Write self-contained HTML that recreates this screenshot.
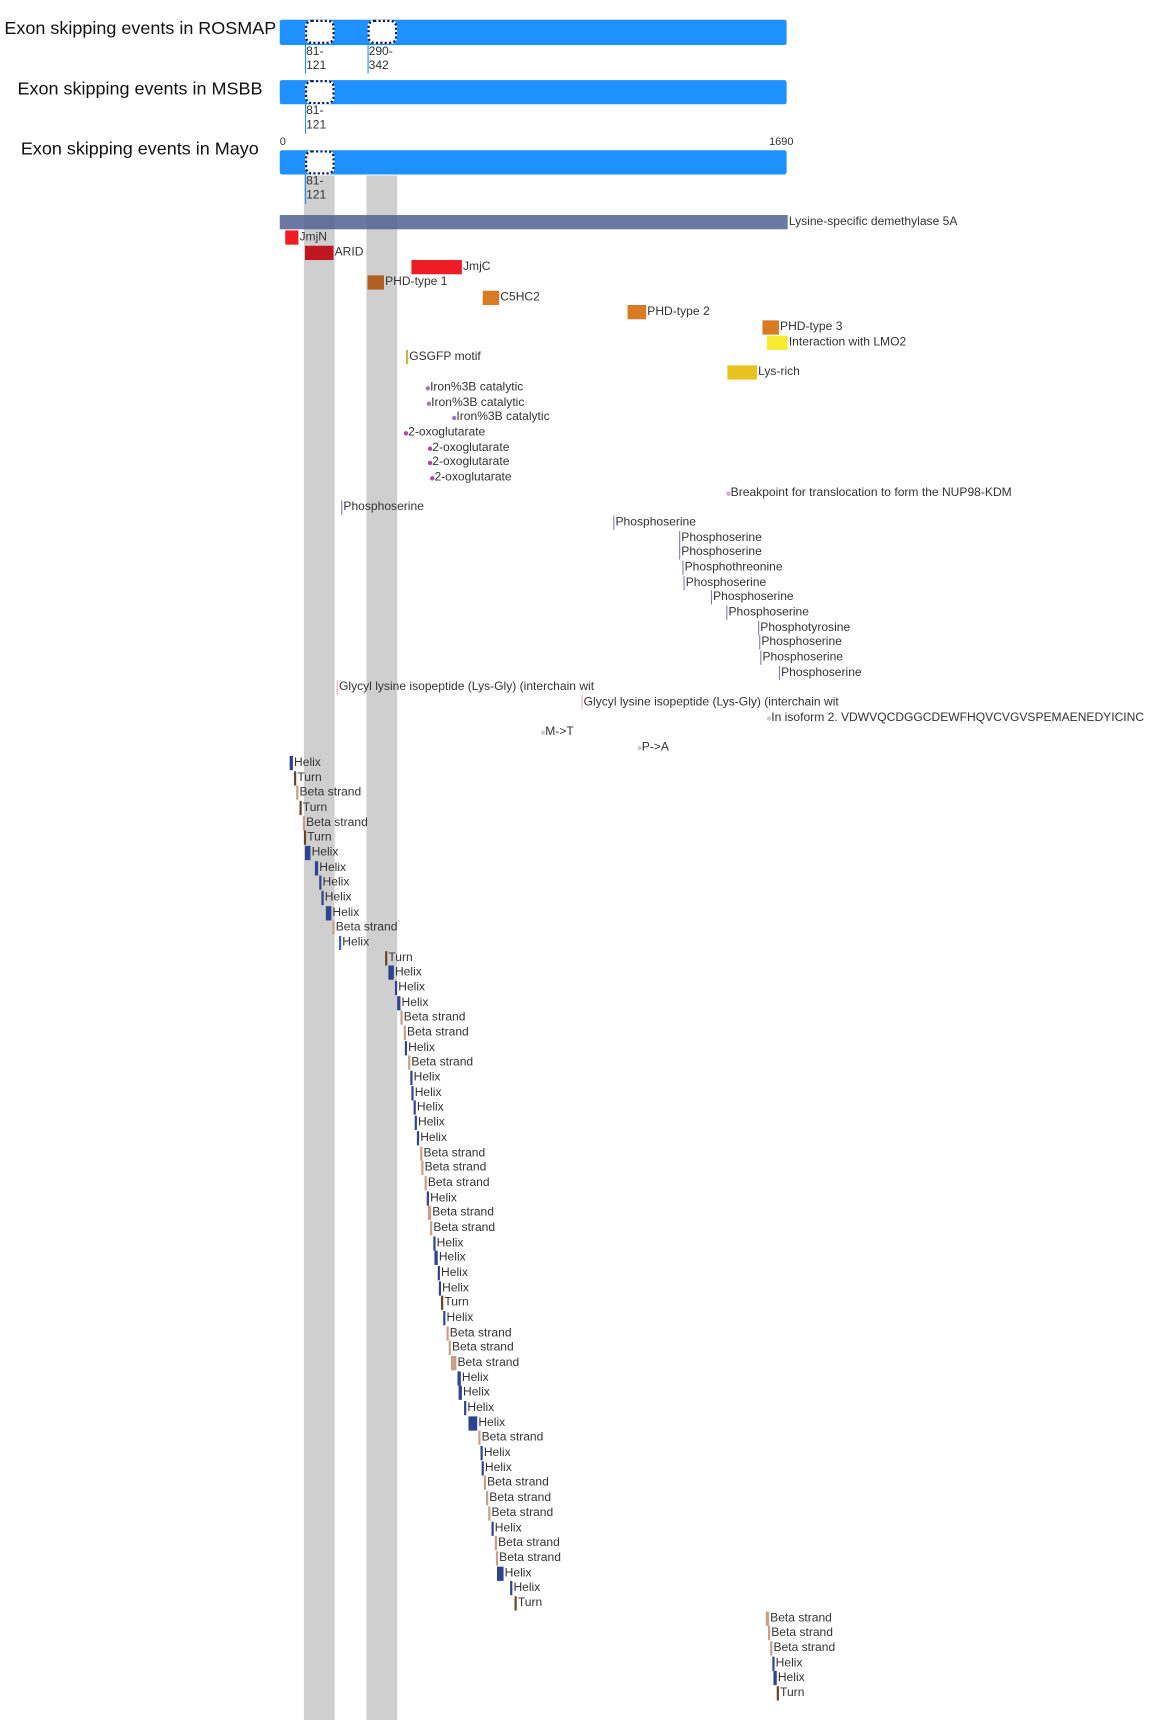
<!DOCTYPE html>
<html><head><meta charset="utf-8"><style>
html,body{margin:0;padding:0;background:#fff;width:1152px;height:1720px;overflow:hidden}
#w{position:absolute;left:0;top:0;width:1050px;height:1568px;transform:scale(1.0971);transform-origin:0 0;font-family:"Liberation Sans",Arial,sans-serif;color:#222}
.a{position:absolute}
.t{position:absolute;font-size:16.4px;white-space:nowrap;color:#111}
.l{position:absolute;font-size:11px;white-space:nowrap;line-height:13px;color:#333}
.bar{position:absolute;background:#1e90ff;border-radius:2px}
.box{position:absolute;background:#fff;border:2.5px dotted #0a1a60;border-radius:6px;box-sizing:border-box}
.g{position:absolute;background:#cfcfcf}
</style></head><body><div id="w">
<div class="g" style="left:277px;top:160px;width:28px;height:1408px"></div>
<div class="g" style="left:334px;top:160px;width:28px;height:1408px"></div>

<div class="t" style="left:4px;top:17px">Exon skipping events in ROSMAP</div>
<div class="bar" style="left:255px;top:18px;width:462px;height:23px"></div>
<div class="box" style="left:278px;top:18px;width:27px;height:22px"></div>
<div class="box" style="left:335px;top:18px;width:27px;height:22px"></div>
<div class="a" style="left:278px;top:40px;width:1px;height:27px;background:#1e90ff"></div>
<div class="a" style="left:335px;top:40px;width:1px;height:27px;background:#1e90ff"></div>
<div class="l" style="left:279px;top:41px;line-height:13px">81-<br>121</div>
<div class="l" style="left:336px;top:41px;line-height:13px">290-<br>342</div>

<div class="t" style="left:16px;top:72px">Exon skipping events in MSBB</div>
<div class="bar" style="left:255px;top:73px;width:462px;height:22px"></div>
<div class="box" style="left:278px;top:73px;width:27px;height:22px"></div>
<div class="a" style="left:278px;top:95px;width:1px;height:27px;background:#1e90ff"></div>
<div class="l" style="left:279px;top:95px">81-<br>121</div>

<div class="t" style="left:19px;top:127px">Exon skipping events in Mayo</div>
<div class="l" style="left:255px;top:123px;font-size:10px">0</div>
<div class="l" style="left:701px;top:123px;font-size:10px">1690</div>
<div class="bar" style="left:255px;top:137px;width:462px;height:22px"></div>
<div class="box" style="left:278px;top:137px;width:27px;height:22px"></div>
<div class="a" style="left:278px;top:159px;width:1px;height:27px;background:#1e90ff"></div>
<div class="l" style="left:279px;top:159px">81-<br>121</div>

<div class="a" style="left:255px;top:196px;width:463px;height:13px;background:rgba(80,98,145,0.85)"></div>
<div class="l" style="left:719px;top:196px">Lysine-specific demethylase 5A</div>
<div id="f"></div>
</div>
<script>
var H='#2e4490',T='#6b4426',B='#c8a088',P='#8878a8';
var d=[
[260,12,'#ee1c25','JmjN'],[278,26,'#c0161f','ARID'],[375,46,'#ee1c25','JmjC'],[335,15,'#b06020','PHD-type 1'],
[440,15,'#d97a24','C5HC2'],[572,17,'#d97a24','PHD-type 2'],[695,15,'#d97a24','PHD-type 3'],[699,19,'#f7eb33','Interaction with LMO2'],
[370,2,'#d4b03c','GSGFP motif'],[663,27,'#e8c31f','Lys-rich'],
['d',388,'#9b7ac0','Iron%3B catalytic'],['d',389,'#9b7ac0','Iron%3B catalytic'],['d',412,'#9b7ac0','Iron%3B catalytic'],
['d',368,'#b04aa0','2-oxoglutarate'],['d',390,'#b04aa0','2-oxoglutarate'],['d',390,'#b04aa0','2-oxoglutarate'],['d',392,'#b04aa0','2-oxoglutarate'],
['d',662,'#e0a0c8','Breakpoint for translocation to form the NUP98-KDM'],
[311,1,P,'Phosphoserine'],[559,1,P,'Phosphoserine'],[619,1,P,'Phosphoserine'],[619,1,P,'Phosphoserine'],[622,1,P,'Phosphothreonine'],[623,1,P,'Phosphoserine'],[648,1,P,'Phosphoserine'],[662,1,P,'Phosphoserine'],[691,1,P,'Phosphotyrosine'],[692,1,P,'Phosphoserine'],[693,1,P,'Phosphoserine'],[710,1,P,'Phosphoserine'],
[307,1,'#e0b0d0','Glycyl lysine isopeptide (Lys-Gly) (interchain wit'],[530,1,'#e0b0d0','Glycyl lysine isopeptide (Lys-Gly) (interchain wit'],
['d',699,'#c8ccd0','In isoform 2. VDWVQCDGGCDEWFHQVCVGVSPEMAENEDYICINC'],['d',493,'#c8ccd0','M->T'],['d',581,'#c8ccd0','P->A'],
[264,3,H,'Helix'],[268,2,T,'Turn'],[270,2,B,'Beta strand'],[273,2,T,'Turn'],[276,2,B,'Beta strand'],[277,2,T,'Turn'],[278,5,H,'Helix'],[287,3,H,'Helix'],[291,2,H,'Helix'],[293,2,H,'Helix'],[297,5,H,'Helix'],[303,2,B,'Beta strand'],[309,2,'#4060c0','Helix'],
[351,2,T,'Turn'],[354,5,H,'Helix'],[360,2,H,'Helix'],[362,3,H,'Helix'],[365,2,B,'Beta strand'],[368,2,B,'Beta strand'],[369,2,H,'Helix'],[372,2,B,'Beta strand'],[374,2,H,'Helix'],[375,2,H,'Helix'],[377,2,H,'Helix'],[378,2,H,'Helix'],[380,2,H,'Helix'],[383,2,B,'Beta strand'],[384,2,B,'Beta strand'],[387,2,B,'Beta strand'],[389,2,H,'Helix'],[390,3,B,'Beta strand'],[392,2,B,'Beta strand'],[395,2,H,'Helix'],[396,3,H,'Helix'],[399,2,H,'Helix'],[400,2,H,'Helix'],[402,2,T,'Turn'],[404,2,H,'Helix'],[407,2,B,'Beta strand'],[409,2,B,'Beta strand'],[411,5,B,'Beta strand'],[417,3,H,'Helix'],[418,3,H,'Helix'],[423,2,H,'Helix'],[427,8,H,'Helix'],[436,2,B,'Beta strand'],[438,2,H,'Helix'],[439,2,H,'Helix'],[441,2,B,'Beta strand'],[443,2,B,'Beta strand'],[445,2,B,'Beta strand'],[448,2,H,'Helix'],[451,2,B,'Beta strand'],[452,2,B,'Beta strand'],[453,6,H,'Helix'],[465,2,H,'Helix'],[469,2,T,'Turn'],
[698,3,B,'Beta strand'],[700,2,B,'Beta strand'],[702,2,B,'Beta strand'],[704,2,H,'Helix'],[705,3,H,'Helix'],[708,2,T,'Turn']];
var s='';
d.forEach(function(r,i){var top=(210+i*13.68).toFixed(1);
if(r[0]==='d'){s+='<div class="a" style="left:'+r[1]+'px;top:'+(+top+5)+'px;width:4px;height:4px;border-radius:2px;background:'+r[2]+'"></div><div class="l" style="left:'+(r[1]+4)+'px;top:'+top+'px">'+r[3].replace('>','&gt;')+'</div>';}
else{s+='<div class="a" style="left:'+r[0]+'px;top:'+top+'px;width:'+r[1]+'px;height:13px;background:'+r[2]+'"></div><div class="l" style="left:'+(r[0]+r[1]+1)+'px;top:'+top+'px">'+r[3]+'</div>';}});
document.getElementById('f').innerHTML=s;
</script>
</body></html>
